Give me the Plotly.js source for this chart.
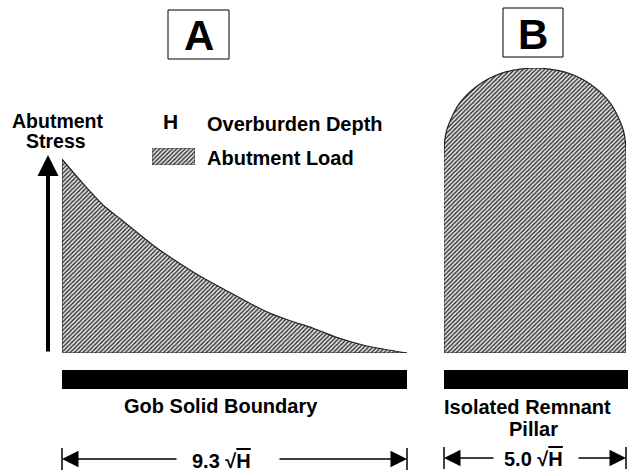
<!DOCTYPE html>
<html>
<head>
<meta charset="utf-8">
<script src="https://cdn.plot.ly/plotly-3.0.1.min.js"></script>
<style>html,body{margin:0;padding:0;background:#fff;}#chart{width:628px;height:473px;}</style>
</head>
<body>
<div id="chart"></div>
<script>
// Panel A: distance from gob edge (in units of sqrt(H)) and relative abutment load
const abutX    = [0, 0.53, 1.16, 1.61, 2.51, 3.59, 4.53, 5.07, 5.61, 6.15, 6.77, 7.40, 8.11, 8.65, 9.3];
const abutLoad = [0.68, 0.60, 0.513, 0.467, 0.373, 0.28, 0.212, 0.174, 0.139, 0.113, 0.087, 0.055, 0.028, 0.014, 0];
// Panel B: isolated remnant pillar, width 5.0 sqrt(H)
const pillarX    = [0, 0, 0.02, 0.07, 0.17, 0.30, 0.45, 0.62, 0.84, 1.08, 1.38, 1.72, 2.1, 2.5, 2.9, 3.28, 3.62, 3.92, 4.16, 4.38, 4.55, 4.70, 4.83, 4.93, 4.98, 5, 5];
const pillarLoad = [0, 0.71, 0.745, 0.78, 0.815, 0.85, 0.88, 0.905, 0.93, 0.952, 0.972, 0.987, 0.996, 1.0, 0.996, 0.987, 0.972, 0.952, 0.93, 0.905, 0.88, 0.85, 0.815, 0.78, 0.745, 0.71, 0];
const spanA = 9.3, spanB = 5.0;
const labelA = ["Gob Solid Boundary"];
const labelB = ["Isolated Remnant", "Pillar"];
const legendItems = ["Overburden Depth", "Abutment Load"];

const W = 628, H = 473;
const px = x => x / W;
const py = y => 1 - y / H;
const FONT = 'Liberation Sans, Arial, sans-serif';
const pattern = {shape: '/', size: 3, solidity: 0.38, fgcolor: '#1a1a1a', bgcolor: '#e0e0e0'};
const edge = {color: '#222', width: 1.2};

const nA = abutX.length - 1, nB = pillarX.length - 1;
const traces = [
  {x: abutX, y: abutLoad, xaxis: 'x', yaxis: 'y', type: 'scatter', mode: 'lines', fill: 'tozeroy',
   fillpattern: pattern, fillcolor: '#e0e0e0', line: Object.assign({shape: 'spline', smoothing: 0.8}, edge), hoverinfo: 'skip'},
  {x: [abutX[0], abutX[0], abutX[nA]], y: [abutLoad[0], 0, 0], xaxis: 'x', yaxis: 'y', type: 'scatter', mode: 'lines',
   line: edge, hoverinfo: 'skip'},
  {x: pillarX, y: pillarLoad, xaxis: 'x2', yaxis: 'y', type: 'scatter', mode: 'lines', fill: 'toself',
   fillpattern: pattern, fillcolor: '#e0e0e0', line: Object.assign({shape: 'spline', smoothing: 0.8}, edge), hoverinfo: 'skip'},
  {x: [pillarX[0], pillarX[nB]], y: [0, 0], xaxis: 'x2', yaxis: 'y', type: 'scatter', mode: 'lines',
   line: edge, hoverinfo: 'skip'},
  {x: [0, 1, 1, 0, 0], y: [0, 0, 1, 1, 0], xaxis: 'x3', yaxis: 'y3', type: 'scatter', mode: 'lines', fill: 'toself',
   fillpattern: pattern, fillcolor: '#e0e0e0', line: {color: '#444', width: 1}, hoverinfo: 'skip'}
];

const hid = {visible: false, fixedrange: true};
const layout = {
  width: W, height: H,
  margin: {l: 0, r: 0, t: 0, b: 0},
  paper_bgcolor: '#fff', plot_bgcolor: 'rgba(0,0,0,0)',
  showlegend: false,
  xaxis: Object.assign({domain: [px(62), px(407)], range: [0, spanA], anchor: 'y'}, hid),
  xaxis2: Object.assign({domain: [px(444), px(626)], range: [0, spanB], anchor: 'y'}, hid),
  yaxis: Object.assign({domain: [py(353), py(68)], range: [0, 1], anchor: 'x'}, hid),
  xaxis3: Object.assign({domain: [px(152), px(195)], range: [0, 1], anchor: 'y3'}, hid),
  yaxis3: Object.assign({domain: [py(165), py(148)], range: [0, 1], anchor: 'x3'}, hid),
  shapes: [
    {type: 'rect', xref: 'paper', yref: 'paper', x0: px(168), x1: px(229), y0: py(59), y1: py(10), line: {color: '#000', width: 1}},
    {type: 'rect', xref: 'paper', yref: 'paper', x0: px(503), x1: px(563), y0: py(57), y1: py(8), line: {color: '#000', width: 1}},
    {type: 'rect', xref: 'paper', yref: 'paper', x0: px(62), x1: px(407), y0: py(389), y1: py(370), fillcolor: '#000', line: {width: 0}},
    {type: 'rect', xref: 'paper', yref: 'paper', x0: px(444), x1: px(628), y0: py(389), y1: py(370), fillcolor: '#000', line: {width: 0}},
    {type: 'line', xref: 'paper', yref: 'paper', x0: px(62), x1: px(62), y0: py(470), y1: py(448), line: {color: '#000', width: 1.5}},
    {type: 'line', xref: 'paper', yref: 'paper', x0: px(407), x1: px(407), y0: py(470), y1: py(448), line: {color: '#000', width: 1.5}},
    {type: 'line', xref: 'paper', yref: 'paper', x0: px(444), x1: px(444), y0: py(469), y1: py(447), line: {color: '#000', width: 1.5}},
    {type: 'line', xref: 'paper', yref: 'paper', x0: px(626), x1: px(626), y0: py(469), y1: py(447), line: {color: '#000', width: 1.5}}
  ],
  annotations: []
};

function txt(t, x, y, size, xanchor) {
  return {text: t, x: px(x), y: py(y), xref: 'paper', yref: 'paper', showarrow: false,
          xanchor: xanchor || 'center', yanchor: 'middle',
          font: {family: FONT, size: size, color: '#000', weight: 'bold'}};
}
function arrow(tx, ty, ax, ay, w, s) {
  return {text: '', x: px(tx), y: py(ty), xref: 'paper', yref: 'paper', showarrow: true,
          ax: ax, ay: ay, arrowhead: 2, arrowwidth: w, arrowsize: s, arrowcolor: '#000', standoff: 0};
}
const sqrtH = '\u221A<span style="text-decoration:overline">H</span>';
layout.annotations.push(
  txt('A', 198.5, 36, 42),
  txt('B', 533, 34, 42),
  txt('Abutment', 58, 121, 19.5),
  txt('Stress', 56, 141, 19.5),
  txt('H', 170, 121, 21),
  txt(legendItems[0], 205, 124, 20, 'left'),
  txt(legendItems[1], 205, 158, 20, 'left'),
  txt(labelA[0], 221, 406, 20),
  txt(labelB[0], 527, 407, 20),
  txt(labelB[1], 533, 429, 20),
  txt(spanA.toFixed(1) + ' ' + sqrtH, 222, 461, 20),
  txt(spanB.toFixed(1) + ' ' + sqrtH, 533, 459, 20),
  arrow(48, 155, 0, 198, 4, 1.05),
  arrow(62, 459, 116, 0, 1.5, 2.2),
  arrow(407, 459, -129, 0, 1.5, 2.2),
  arrow(444, 458, 51, 0, 1.5, 2.2),
  arrow(626, 458, -49, 0, 1.5, 2.2)
);

Plotly.newPlot('chart', traces, layout, {staticPlot: true, displayModeBar: false});
</script>
</body>
</html>
